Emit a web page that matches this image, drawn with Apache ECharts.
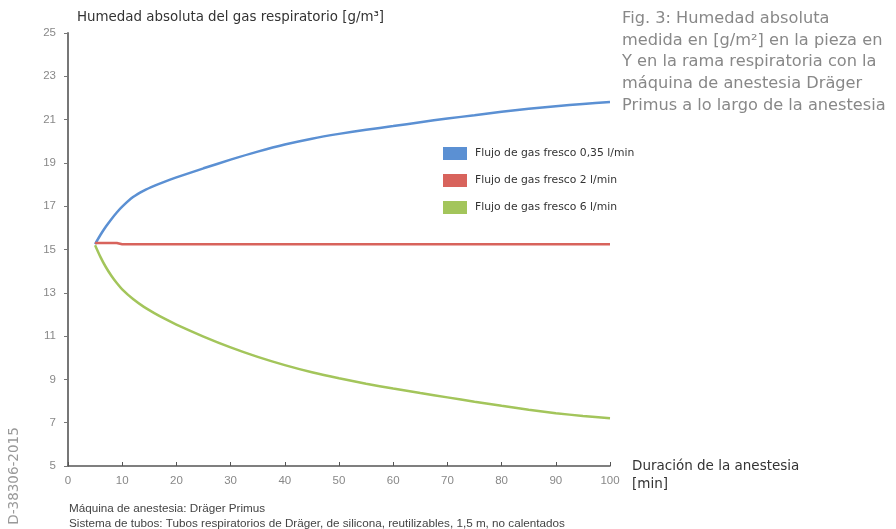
<!DOCTYPE html>
<html>
<head>
<meta charset="utf-8">
<script src="https://cdn.jsdelivr.net/npm/echarts@6/dist/echarts.min.js"></script>
<style>
  html, body { margin: 0; padding: 0; background: #fff; }
  #chart { width: 896px; height: 529px; }
</style>
</head>
<body>
<div id="chart"></div>
<script>
// tiempo en minutos
var minutos = [5, 6, 7, 8, 9, 10, 12, 14, 16, 18, 20, 25, 30, 35, 40, 45, 50, 55, 60, 65, 70, 75, 80, 85, 90, 95, 100];
// humedad absoluta [g/m3] por flujo de gas fresco
var flujo035 = [15.25, 15.68, 16.06, 16.4, 16.71, 16.98, 17.42, 17.72, 17.95, 18.15, 18.33, 18.75, 19.15, 19.52, 19.85, 20.12, 20.34, 20.53, 20.7, 20.88, 21.05, 21.2, 21.36, 21.5, 21.62, 21.72, 21.81];
var flujo2 = [15.3, 15.3, 15.3, 15.3, 15.3, 15.24, 15.24, 15.24, 15.24, 15.24, 15.24, 15.24, 15.24, 15.24, 15.24, 15.24, 15.24, 15.24, 15.24, 15.24, 15.24, 15.24, 15.24, 15.24, 15.24, 15.24, 15.24];
var flujo6 = [15.2, 14.65, 14.18, 13.79, 13.45, 13.16, 12.71, 12.35, 12.05, 11.78, 11.53, 10.98, 10.48, 10.04, 9.66, 9.33, 9.05, 8.8, 8.58, 8.37, 8.17, 7.97, 7.78, 7.6, 7.44, 7.31, 7.2];
var nombres = ['Flujo de gas fresco 0,35 l/min', 'Flujo de gas fresco 2 l/min', 'Flujo de gas fresco 6 l/min'];
var colores = ['#5b90d3', '#d8635c', '#a3c55b'];

function pares(valores) {
    return minutos.map(function (m, i) { return [m, valores[i]]; });
}

var myChart = echarts.init(document.getElementById('chart'));

var option = {
    animation: false,
    grid: { left: 68, right: 286, top: 33, bottom: 63 },
    legend: {
        orient: 'vertical',
        left: 438,
        top: 142,
        icon: 'rect',
        itemWidth: 24,
        itemHeight: 13,
        itemGap: 14,
        textStyle: { fontSize: 10.8, color: '#333', fontFamily: 'DejaVu Sans, sans-serif', padding: [0, 0, 0, 3] },
        data: nombres
    },
    xAxis: {
        type: 'value',
        min: 0,
        max: 100,
        interval: 10,
        splitLine: { show: false },
        axisLine: { lineStyle: { color: '#555', width: 1.5 } },
        axisTick: { inside: true, length: 4, lineStyle: { color: '#555' } },
        axisLabel: { color: '#888', fontSize: 11.5, margin: 9, fontFamily: 'Liberation Sans Narrow, sans-serif' }
    },
    yAxis: {
        type: 'value',
        min: 5,
        max: 25,
        interval: 2,
        splitLine: { show: false },
        axisLine: { show: true, lineStyle: { color: '#777', width: 2 } },
        axisTick: { show: true, length: 4, lineStyle: { color: '#777' } },
        axisLabel: { color: '#888', fontSize: 11.5, margin: 12, fontFamily: 'Liberation Sans Narrow, sans-serif' }
    },
    series: [
        { name: nombres[0], type: 'line', data: pares(flujo035), smooth: 0.25, showSymbol: false, lineStyle: { width: 2.5, color: colores[0] }, itemStyle: { color: colores[0] } },
        { name: nombres[1], type: 'line', data: pares(flujo2), showSymbol: false, lineStyle: { width: 2.5, color: colores[1] }, itemStyle: { color: colores[1] } },
        { name: nombres[2], type: 'line', data: pares(flujo6), smooth: 0.25, showSymbol: false, lineStyle: { width: 2.5, color: colores[2] }, itemStyle: { color: colores[2] } }
    ],
    graphic: [
        { type: 'text', left: 77, top: 11, style: { text: 'Humedad absoluta del gas respiratorio [g/m³]', fontSize: 13.4, fill: '#333', fontFamily: 'DejaVu Sans, sans-serif' } },
        { type: 'text', left: 622, top: 8, style: { text: 'Fig. 3: Humedad absoluta\nmedida en [g/m²] en la pieza en\nY en la rama respiratoria con la\nmáquina de anestesia Dräger\nPrimus a lo largo de la anestesia', fontSize: 16.2, lineHeight: 21.7, fill: '#888', fontFamily: 'DejaVu Sans, sans-serif' } },
        { type: 'text', left: 632, top: 457, style: { text: 'Duración de la anestesia\n[min]', fontSize: 13.5, lineHeight: 18, fill: '#333', fontFamily: 'DejaVu Sans, sans-serif' } },
        { type: 'text', left: 69, top: 501, style: { text: 'Máquina de anestesia: Dräger Primus\nSistema de tubos: Tubos respiratorios de Dräger, de silicona, reutilizables, 1,5 m, no calentados', fontSize: 11.7, lineHeight: 15, fill: '#444', fontFamily: 'Liberation Sans Narrow, sans-serif' } },
        { type: 'text', x: 14, y: 476, rotation: Math.PI / 2, style: { text: 'D-38306-2015', fontSize: 13.5, fill: '#999', align: 'center', verticalAlign: 'middle', fontFamily: 'DejaVu Sans, sans-serif' } }
    ]
};

myChart.setOption(option);
</script>
</body>
</html>
